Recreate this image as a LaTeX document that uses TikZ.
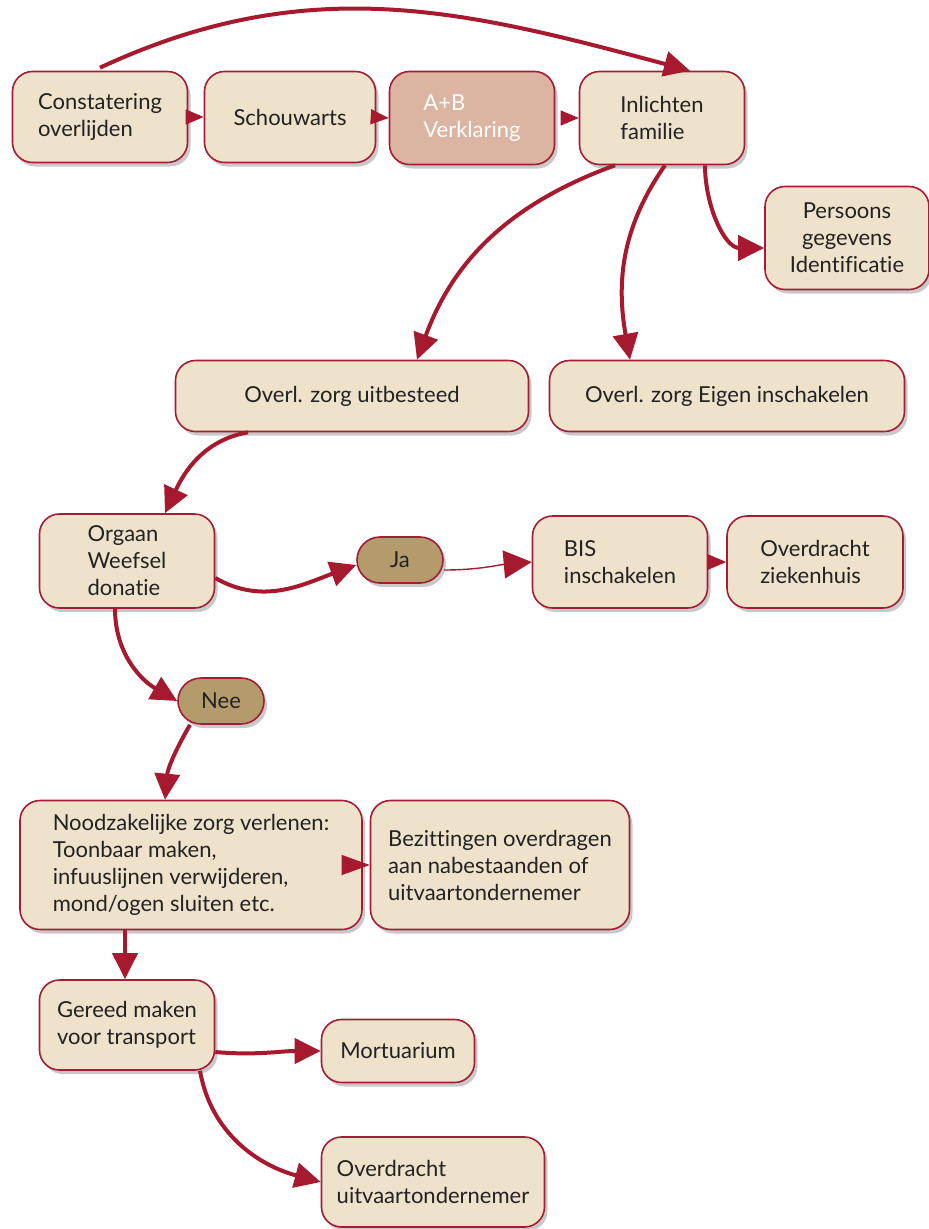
\documentclass[tikz,border=0pt]{standalone}
\usepackage{fontspec}
\setmainfont{Lato}[Ligatures=NoCommon]
\usetikzlibrary{arrows.meta,shadows}
\definecolor{boxfill}{HTML}{EFE2CB}
\definecolor{boxline}{HTML}{A51C36}
\definecolor{verkfill}{HTML}{DBB5A2}
\definecolor{keuzefill}{HTML}{B39B6B}
\definecolor{pijlkleur}{HTML}{A6192E}
\definecolor{tekst}{HTML}{222222}
\tikzset{
	stap/.style={draw=boxline, line width=1.6pt, fill=boxfill, rounded corners=20pt, text=tekst, align=left,
		font=\fontsize{22}{27}\selectfont,
		drop shadow={shadow xshift=3pt, shadow yshift=-4pt, opacity=0.3, fill=black!70}},
	keuze/.style={stap, fill=keuzefill, rounded corners=23pt, minimum width=86pt, minimum height=46pt},
	pijl/.style={draw=pijlkleur, line width=4pt, -{Triangle[length=26pt,width=25pt]}},
	kort/.style={draw=pijlkleur, line width=1pt, -{Triangle[length=18pt,width=15pt]}}
}
\begin{document}
\begin{tikzpicture}[x=1pt,y=1pt]
				\useasboundingbox (0,0) rectangle (929,-1229);
				
				\node[stap, minimum width=175pt, minimum height=91pt] (cons) at (100,-117) {Constatering\\overlijden};
				\node[stap, minimum width=171pt, minimum height=91pt] (schouw) at (290,-117) {Schouwarts};
				\node[stap, fill=verkfill, text=white, minimum width=165pt, minimum height=93pt] (verk) at (472,-118) {A+B\\Verklaring};
				\node[stap, minimum width=165pt, minimum height=93pt] (inl) at (662,-118) {Inlichten\\familie};
				\node[stap, align=center, minimum width=164pt, minimum height=103pt] (pers) at (847,-238) {Persoons\\gegevens\\Identificatie};
				
				\node[stap, minimum width=353pt, minimum height=71pt] (uitb) at (352,-396) {Overl. zorg uitbesteed};
				\node[stap, minimum width=355pt, minimum height=71pt] (eigen) at (727,-396) {Overl. zorg Eigen inschakelen};
				
				\node[stap, minimum width=175pt, minimum height=94pt] (org) at (127,-561) {Orgaan\\Weefsel\\donatie};
				\node[keuze] (ja) at (400,-560) {Ja};
				\node[stap, minimum width=175pt, minimum height=92pt] (bis) at (620,-562) {BIS\\inschakelen};
				\node[stap, minimum width=176pt, minimum height=92pt] (zkh) at (815,-562) {Overdracht\\ziekenhuis};
				\node[keuze] (nee) at (221,-701) {Nee};
				
				\node[stap, minimum width=342pt, minimum height=129pt] (nood) at (191,-865) {Noodzakelijke zorg verlenen:\\Toonbaar maken,\\infuuslijnen verwijderen,\\mond/ogen sluiten etc.};
				\node[stap, minimum width=259pt, minimum height=129pt] (bez) at (500,-865) {Bezittingen overdragen\\aan nabestaanden of\\uitvaartondernemer};
				
				\node[stap, minimum width=175pt, minimum height=90pt] (ger) at (127,-1025) {Gereed maken\\voor transport};
				\node[stap, minimum width=153pt, minimum height=63pt] (mort) at (398,-1051) {Mortuarium};
				\node[stap, minimum width=223pt, minimum height=90pt] (uitv) at (433,-1182) {Overdracht\\uitvaartondernemer};
				
				\draw[pijl] ([yshift=3pt]cons.north) to[out=25,in=165] ([xshift=28pt]inl.north);
				\draw[kort] ([xshift=-2pt]cons.east) -- (schouw.west);
				\draw[kort] ([xshift=-3pt]schouw.east) -- (verk.west);
				\draw[kort] ([xshift=7pt]verk.east) -- (inl.west);
				
				\draw[pijl] ([xshift=43pt]inl.south) to[out=-90,in=180] ([yshift=-10pt]pers.west);
				\draw[pijl] ([xshift=-47pt]inl.south) to[out=200,in=70] ([xshift=65pt]uitb.north);
				\draw[pijl] ([xshift=3pt]inl.south) to[out=235,in=100] ([xshift=-97pt]eigen.north);
				
				\draw[pijl] ([xshift=-104pt]uitb.south) to[out=190,in=65] ([xshift=38pt]org.north);
				\draw[pijl] ([yshift=-17pt]org.east) to[out=-30,in=200] ([yshift=-5pt]ja.west);
				\draw[draw=pijlkleur, line width=1.4pt, -{Triangle[length=28pt,width=28pt]}] ([yshift=-10pt]ja.east) to[out=0,in=185] (bis.west);
				\draw[kort] ([xshift=-1pt]bis.east) -- (zkh.west);
				\draw[pijl] ([xshift=-12pt]org.south) to[out=-90,in=150] (nee.west);
				\draw[pijl] ([xshift=-31pt]nee.south) to[out=240,in=85] ([xshift=-26pt]nood.north);
				
				\draw[kort, -{Triangle[length=28pt,width=20pt]}] ([xshift=-20pt]nood.east) -- (bez.west);
				\draw[pijl] ([xshift=-66pt]nood.south) -- ([xshift=-2pt]ger.north);
				
				\draw[pijl] ([yshift=-27pt]ger.east) to[out=-5,in=180] (mort.west);
				\draw[pijl] ([xshift=73pt]ger.south) to[out=-80,in=165] (uitv.west);
\end{tikzpicture}
\end{document}
